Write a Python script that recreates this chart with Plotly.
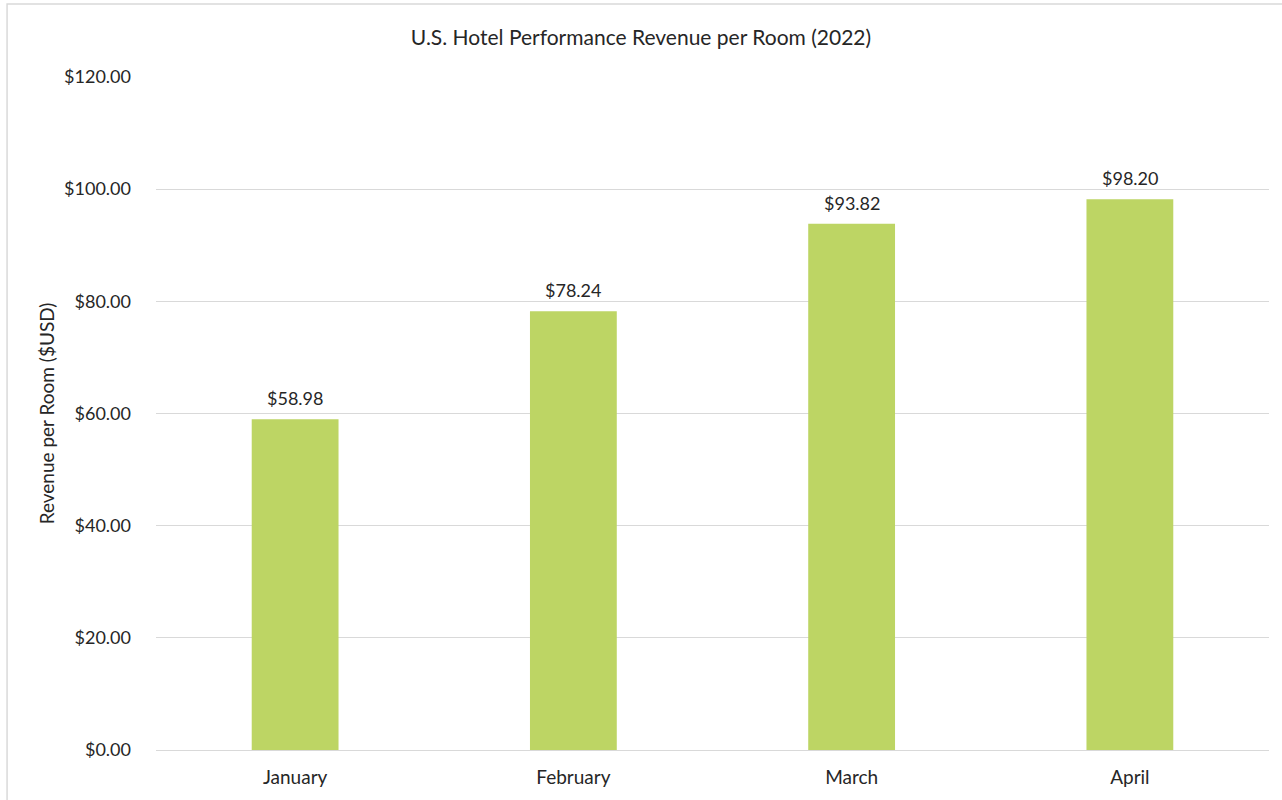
import plotly.graph_objects as go

months = ["January", "February", "March", "April"]
revpar = [58.98, 78.24, 93.82, 98.20]
labels = ["$58.98", "$78.24", "$93.82", "$98.20"]
ytick_vals = [0, 20, 40, 60, 80, 100, 120]
ytick_text = ["$0.00", "$20.00", "$40.00", "$60.00", "$80.00", "$100.00", "$120.00"]

FONT = "Lato, 'Open Sans', sans-serif"
TXT = "#262626"

fig = go.Figure(go.Bar(
    x=months, y=revpar,
    marker=dict(color="#BDD564", line=dict(width=0)),
    width=0.312,
    hoverinfo="x+y",
))

for m, v, t in zip(months, revpar, labels):
    fig.add_annotation(x=m, y=v, text=t, showarrow=False,
                       yanchor="bottom", yshift=8,
                       font=dict(family=FONT, size=18, color=TXT))

L, R, T, B = 156, 12.5, 77, 50
W, H = 1282, 800
pw = W - L - R
ph = H - T - B

fig.update_layout(
    width=W, height=H,
    margin=dict(l=L, r=R, t=T, b=B, autoexpand=False),
    paper_bgcolor="white", plot_bgcolor="white",
    font=dict(family=FONT, color=TXT),
    title=dict(text="U.S. Hotel Performance Revenue per Room (2022)",
               x=0.5, xanchor="center", y=1 - 38 / H, yanchor="middle",
               font=dict(family=FONT, size=21, color=TXT)),
    showlegend=False,
)
fig.update_yaxes(
    range=[0, 120], tickvals=ytick_vals, ticktext=ytick_text,
    showgrid=True, gridcolor="#D9D9D9", gridwidth=1,
    zeroline=False, showline=False, automargin=False,
    tickfont=dict(family=FONT, size=18, color=TXT),
    ticklabelstandoff=24,
    title=dict(text="Revenue per Room ($USD)", standoff=4,
               font=dict(family=FONT, size=19, color=TXT)),
)
fig.update_xaxes(
    showgrid=False, showline=True, linecolor="#D9D9D9", linewidth=1,
    automargin=False,
    tickfont=dict(family=FONT, size=19, color=TXT),
    ticklabelstandoff=10,
)

# chart-area border (extends off the right and bottom edges)
x0 = (7 - L) / pw
x1 = (1290 - L) / pw
y1 = 1 + (T - 4) / ph
y0 = -(810 - (H - B)) / ph
fig.add_shape(type="rect", xref="paper", yref="paper",
              x0=x0, x1=x1, y0=y0, y1=y1,
              line=dict(color="#D9D9D9", width=1.5), layer="below")

fig.write_html("out.html", config={"displayModeBar": False},
               post_script="document.body.style.margin='0';document.body.style.overflow='hidden';")
